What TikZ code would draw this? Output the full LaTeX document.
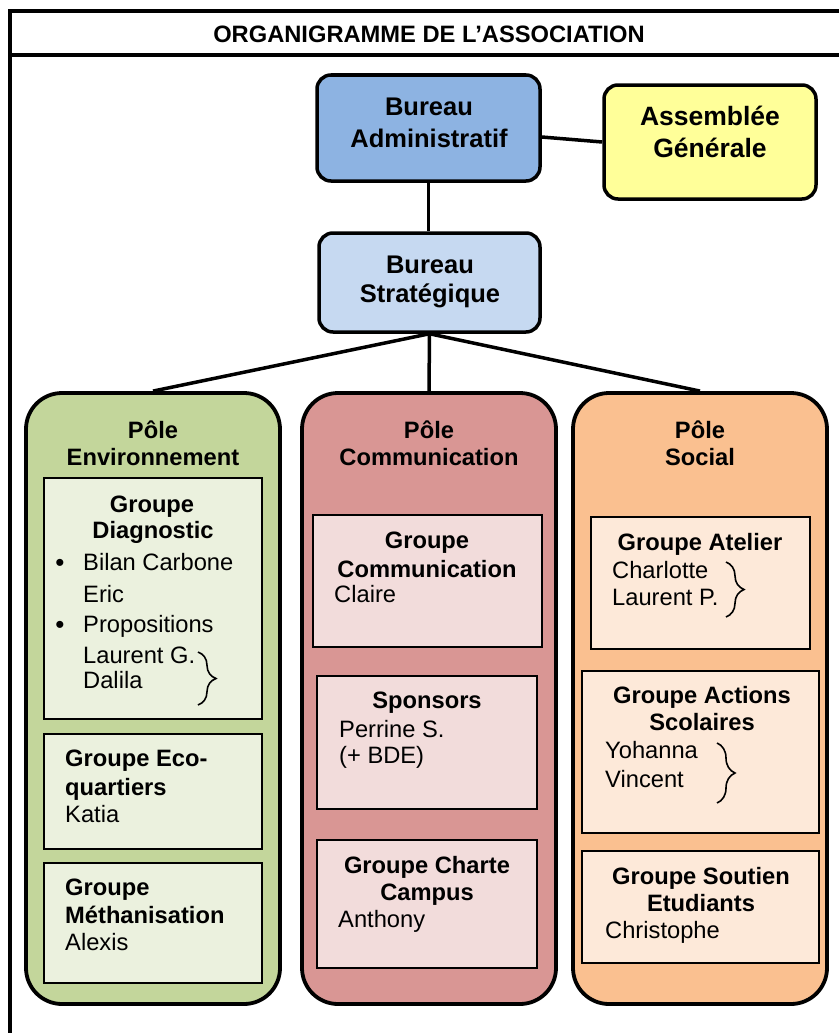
\documentclass[tikz,border=0pt]{standalone}
\usepackage{fontspec}
\setmainfont{Liberation Sans}
\usetikzlibrary{decorations.pathreplacing}
\definecolor{bA}{HTML}{8DB3E2}
\definecolor{bS}{HTML}{C6D9F1}
\definecolor{aG}{HTML}{FFFF99}
\definecolor{envD}{HTML}{C3D69B}
\definecolor{envL}{HTML}{EBF1DE}
\definecolor{comD}{HTML}{D99694}
\definecolor{comL}{HTML}{F2DCDB}
\definecolor{socD}{HTML}{FAC090}
\definecolor{socL}{HTML}{FDE9D9}
\begin{document}
\begin{tikzpicture}[x=1pt,y=-1pt,
  topbox/.style={draw=black,line width=3.5pt,rounded corners=14pt,inner sep=0pt},
  polebox/.style={draw=black,line width=3.8pt,rounded corners=36pt,inner sep=0pt},
  grpbox/.style={draw=black,line width=1.8pt,inner sep=0pt},
  hd/.style={font=\fontsize{23.7}{27}\selectfont\bfseries,anchor=base,inner sep=0pt},
  hdl/.style={font=\fontsize{23.7}{27}\selectfont\bfseries,anchor=base west,inner sep=0pt},
  nm/.style={font=\fontsize{23.7}{27}\selectfont,anchor=base west,inner sep=0pt},
  bul/.style={font=\fontsize{26}{27}\selectfont,anchor=base,inner sep=0pt},
  big/.style={font=\fontsize{25.5}{30}\selectfont\bfseries,anchor=base,inner sep=0pt},
  bigger/.style={font=\fontsize{26.5}{30}\selectfont\bfseries,anchor=base,inner sep=0pt},
  conn/.style={line width=3.5pt},
  brc/.style={decorate,decoration={brace,amplitude=18pt},line width=1.6pt},
  frame/.style={line width=4pt}]
\useasboundingbox (0,0) rectangle (839,1033);

% frame
\draw[frame] (10,1033) -- (10,11.5) -- (839,11.5);
\draw[frame] (10,55.3) -- (839,55.3);
\node[font=\fontsize{23.7}{27}\selectfont\bfseries,anchor=base,inner sep=0pt] (title) at (429,43) {ORGANIGRAMME DE L’ASSOCIATION};

% top boxes
\node[topbox,fill=bA,minimum width=223pt,minimum height=106pt] (ba) at (428.5,128) {};
\node[topbox,fill=aG,minimum width=212pt,minimum height=114pt] (ag) at (710,142) {};
\node[topbox,fill=bS,minimum width=221pt,minimum height=99pt] (bs) at (429.5,282.5) {};

% poles
\node[polebox,fill=envD,minimum width=254pt,minimum height=611pt] (penv) at (153,698.5) {};
\node[polebox,fill=comD,minimum width=254pt,minimum height=611pt] (pcom) at (429,698.5) {};
\node[polebox,fill=socD,minimum width=254pt,minimum height=611pt] (psoc) at (700,698.5) {};

% connectors
\draw[conn] ([yshift=-9pt]ba.east) -- (ag.west);
\draw[conn] (ba.south) -- (ba.south |- bs.north);
\draw[conn] (bs.south) -- (penv.north);
\draw[conn] (bs.south) -- (pcom.north);
\draw[conn] (bs.south) -- (psoc.north);

% top texts
\node[big] (baT1) at (429,115) {Bureau};
\node[big] (baT2) at (429,147) {Administratif};
\node[bigger] (agT1) at (710,125) {Assemblée};
\node[bigger] (agT2) at (710,157) {Générale};
\node[big] (bsT1) at (430,273) {Bureau};
\node[big] (bsT2) at (430,302) {Stratégique};

% pole titles
\node[hd] (peT1) at (153,438) {Pôle};
\node[hd] (peT2) at (153,465) {Environnement};
\node[hd] (pcT1) at (429,438) {Pôle};
\node[hd] (pcT2) at (429,465) {Communication};
\node[hd] (psT1) at (700,438) {Pôle};
\node[hd] (psT2) at (700,465) {Social};

% group boxes
\node[grpbox,fill=envL,minimum width=218pt,minimum height=241pt] (gdiag) at (153,598.5) {};
\node[grpbox,fill=envL,minimum width=218pt,minimum height=115pt] (geco) at (153,791.5) {};
\node[grpbox,fill=envL,minimum width=218pt,minimum height=120pt] (gmeth) at (153,923) {};
\node[grpbox,fill=comL,minimum width=229pt,minimum height=132pt] (gcomm) at (427.5,581) {};
\node[grpbox,fill=comL,minimum width=220pt,minimum height=133pt] (gspon) at (427,742.5) {};
\node[grpbox,fill=comL,minimum width=220pt,minimum height=128pt] (gchart) at (427,904) {};
\node[grpbox,fill=socL,minimum width=219pt,minimum height=132pt] (gatel) at (700.5,583) {};
\node[grpbox,fill=socL,minimum width=237pt,minimum height=162pt] (gact) at (700.5,752) {};
\node[grpbox,fill=socL,minimum width=237pt,minimum height=112pt] (gsout) at (700.5,907) {};

% Groupe Diagnostic
\node[hd] (d1) at (152,512) {Groupe};
\node[hd] (d2) at (153,538) {Diagnostic};
\node[bul] (d3b) at (60,571) {•};
\node[nm] (d3) at (83,570) {Bilan Carbone};
\node[nm] (d4) at (83,602) {Eric};
\node[bul] (d5b) at (60,633) {•};
\node[nm] (d5) at (83,632) {Propositions};
\node[nm] (d6) at (83,663) {Laurent G.};
\node[nm] (d7) at (83,688) {Dalila};
\coordinate (br1a) at (198,652);
\coordinate (br1b) at (198,705);
\draw[brc] (br1a) -- (br1b);

% Eco-quartiers
\node[hdl] (e1) at (65,766) {Groupe Eco-};
\node[hdl] (e2) at (65,795) {quartiers};
\node[nm] (e3) at (65,822) {Katia};

% Methanisation
\node[hdl] (m1) at (65,895) {Groupe};
\node[hdl] (m2) at (65,923) {Méthanisation};
\node[nm] (m3) at (65,950) {Alexis};

% Communication
\node[hd] (c1) at (427,548) {Groupe};
\node[hd] (c2) at (427,577) {Communication};
\node[nm] (c3) at (334,602) {Claire};

% Sponsors
\node[hd] (s1) at (427,708) {Sponsors};
\node[nm] (s2) at (339,737) {Perrine S.};
\node[nm] (s3) at (339,763) {(+ BDE)};

% Charte
\node[hd] (h1) at (427,873) {Groupe Charte};
\node[hd] (h2) at (427,900) {Campus};
\node[nm] (h3) at (338,927) {Anthony};

% Atelier
\node[hd] (a1) at (700,550) {Groupe Atelier};
\node[nm] (a2) at (612,578) {Charlotte};
\node[nm] (a3) at (612,605) {Laurent P.};
\coordinate (br2a) at (726,562);
\coordinate (br2b) at (726,617);
\draw[brc] (br2a) -- (br2b);

% Actions Scolaires
\node[hd] (k1) at (702,703) {Groupe Actions};
\node[hd] (k2) at (702,730) {Scolaires};
\node[nm] (k3) at (605,758) {Yohanna};
\node[nm] (k4) at (605,787) {Vincent};
\coordinate (br3a) at (717,743);
\coordinate (br3b) at (717,803);
\draw[brc] (br3a) -- (br3b);

% Soutien
\node[hd] (u1) at (701,884) {Groupe Soutien};
\node[hd] (u2) at (701,911) {Etudiants};
\node[nm] (u3) at (605,938) {Christophe};
\end{tikzpicture}
\end{document}
